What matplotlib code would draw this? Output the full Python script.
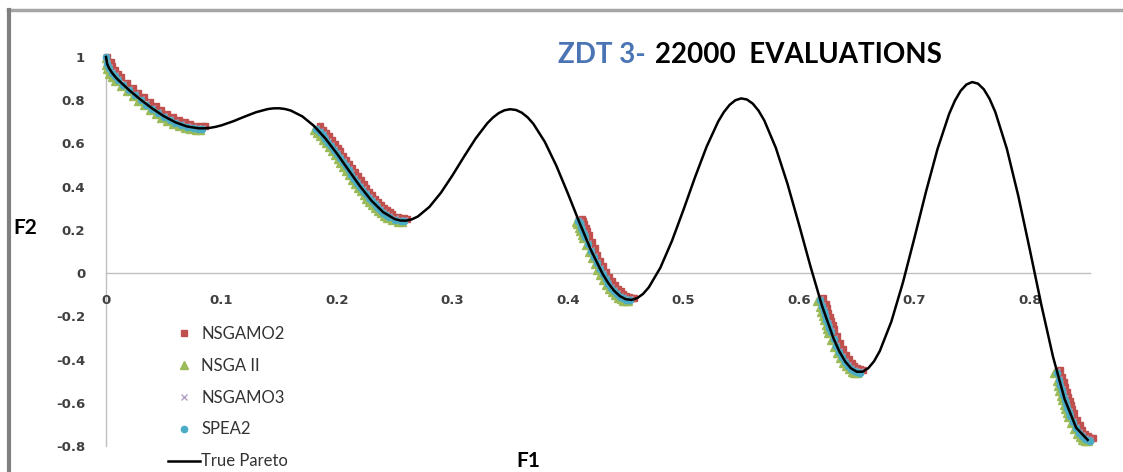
import matplotlib.pyplot as plt
from matplotlib.lines import Line2D

# True Pareto curve (F1, F2)
pareto_f1 = [0.0, 0.001, 0.0025, 0.005, 0.0075, 0.01, 0.02, 0.03, 0.04, 0.05, 0.06, 0.07, 0.08, 0.085, 0.09, 0.095,
             0.10, 0.11, 0.12, 0.13, 0.14, 0.145, 0.15, 0.155, 0.16, 0.17, 0.18, 0.19,
             0.20, 0.21, 0.22, 0.23, 0.24, 0.25, 0.255, 0.26, 0.265, 0.27, 0.28, 0.29,
             0.30, 0.31, 0.32, 0.33, 0.335, 0.34, 0.345, 0.35, 0.355, 0.36, 0.365, 0.37, 0.38, 0.39,
             0.40, 0.41, 0.42, 0.43, 0.435, 0.44, 0.445, 0.45, 0.455, 0.46, 0.465, 0.47, 0.48, 0.49,
             0.50, 0.51, 0.52, 0.53, 0.535, 0.54, 0.545, 0.55, 0.555, 0.56, 0.565, 0.57, 0.58, 0.59,
             0.60, 0.61, 0.62, 0.63, 0.635, 0.64, 0.645, 0.65, 0.655, 0.66, 0.665, 0.67, 0.68, 0.69,
             0.70, 0.71, 0.72, 0.73, 0.735, 0.74, 0.745, 0.75, 0.755, 0.76, 0.765, 0.77, 0.78, 0.79,
             0.80, 0.81, 0.82, 0.83, 0.84, 0.85]
pareto_f2 = [1.0, 0.9683, 0.9498, 0.9285, 0.9117, 0.8969, 0.8468, 0.8025, 0.7620, 0.7264, 0.6980, 0.6788, 0.6701, 0.6699, 0.6722, 0.6769,
             0.6838, 0.7023, 0.7241, 0.7446, 0.7590, 0.7624, 0.7627, 0.7594, 0.7522, 0.7252, 0.6815, 0.6228,
             0.5528, 0.4768, 0.4016, 0.3344, 0.2819, 0.2500, 0.2432, 0.2428, 0.2491, 0.2619, 0.3063, 0.3719,
             0.4523, 0.5390, 0.6224, 0.6925, 0.7197, 0.7403, 0.7534, 0.7584, 0.7548, 0.7424, 0.7211, 0.6911, 0.6069, 0.4960,
             0.3675, 0.2330, 0.1051, -0.0036, -0.0471, -0.0818, -0.1066, -0.1208, -0.1239, -0.1157, -0.0962, -0.0658, 0.0250, 0.1486,
             0.2929, 0.4435, 0.5845, 0.7008, 0.7453, 0.7787, 0.8001, 0.8084, 0.8032, 0.7843, 0.7518, 0.7062, 0.5793, 0.4142,
             0.2254, 0.0305, -0.1518, -0.3034, -0.3627, -0.4087, -0.4402, -0.4562, -0.4563, -0.4401, -0.4080, -0.3606, -0.2243, -0.0439,
             0.1633, 0.3768, 0.5747, 0.7362, 0.7976, 0.8436, 0.8727, 0.8840, 0.8768, 0.8510, 0.8070, 0.7455, 0.5753, 0.3553,
             0.1056, -0.1503, -0.3875, -0.5825, -0.7154, -0.7720]

# F1 positions shared by NSGAMO3 and SPEA2 (one line per front segment)
f1_points = [0.0, 0.001, 0.0025, 0.005, 0.0075, 0.01, 0.015, 0.02, 0.025, 0.03, 0.035, 0.04, 0.045, 0.05, 0.055, 0.06, 0.065, 0.07, 0.075, 0.08, 0.083,
             0.182, 0.185, 0.1875, 0.19, 0.1925, 0.195, 0.1975, 0.2, 0.2025, 0.205, 0.2075, 0.21, 0.2125, 0.215, 0.2175, 0.22, 0.2225, 0.225, 0.2275, 0.23, 0.2325, 0.235, 0.2375, 0.24, 0.2425, 0.245, 0.25, 0.255, 0.258,
             0.409, 0.41, 0.41125, 0.4125, 0.41375, 0.415, 0.4175, 0.42, 0.4225, 0.425, 0.4275, 0.43, 0.4325, 0.435, 0.4375, 0.44, 0.4425, 0.445, 0.4475, 0.45, 0.4525, 0.454,
             0.618, 0.62, 0.62125, 0.6225, 0.62375, 0.625, 0.62625, 0.6275, 0.63, 0.6325, 0.635, 0.6375, 0.64, 0.6425, 0.645, 0.6475, 0.65, 0.6525,
             0.823, 0.825, 0.82625, 0.8275, 0.82875, 0.83, 0.83125, 0.8325, 0.83375, 0.835, 0.8375, 0.84, 0.8425, 0.845, 0.8475, 0.85, 0.852]

nsgamo2_f1 = [0.001, 0.004, 0.0055, 0.008, 0.0105, 0.013, 0.018, 0.023, 0.028, 0.033, 0.038, 0.043, 0.048, 0.053, 0.058, 0.063, 0.068, 0.073, 0.078, 0.083, 0.086,
              0.185, 0.188, 0.1905, 0.193, 0.1955, 0.198, 0.2005, 0.203, 0.2055, 0.208, 0.2105, 0.213, 0.2155, 0.218, 0.2205, 0.223, 0.2255, 0.228, 0.2305, 0.233, 0.2355, 0.238, 0.2405, 0.243, 0.2455, 0.248, 0.253, 0.258, 0.261,
              0.412, 0.413, 0.41425, 0.4155, 0.41675, 0.418, 0.4205, 0.423, 0.4255, 0.428, 0.4305, 0.433, 0.4355, 0.438, 0.4405, 0.443, 0.4455, 0.448, 0.4505, 0.453, 0.4555, 0.457,
              0.621, 0.623, 0.62425, 0.6255, 0.62675, 0.628, 0.62925, 0.6305, 0.633, 0.6355, 0.638, 0.6405, 0.643, 0.6455, 0.648, 0.6505, 0.653, 0.6555,
              0.826, 0.828, 0.82925, 0.8305, 0.83175, 0.833, 0.83425, 0.8355, 0.83675, 0.838, 0.8405, 0.843, 0.8455, 0.848, 0.8505, 0.853, 0.855]
nsgamo2_f2 = [1.000, 0.978, 0.960, 0.939, 0.922, 0.907, 0.881, 0.857, 0.834, 0.813, 0.792, 0.772, 0.753, 0.736, 0.721, 0.708, 0.697, 0.689, 0.683, 0.680, 0.680,
              0.680, 0.664, 0.649, 0.633, 0.616, 0.599, 0.581, 0.563, 0.544, 0.525, 0.506, 0.487, 0.468, 0.449, 0.430, 0.412, 0.394, 0.377, 0.360, 0.344, 0.330, 0.316, 0.303, 0.292, 0.282, 0.273, 0.260, 0.253, 0.252,
              0.252, 0.243, 0.226, 0.210, 0.194, 0.177, 0.146, 0.115, 0.086, 0.058, 0.031, 0.006, -0.016, -0.037, -0.056, -0.072, -0.085, -0.097, -0.105, -0.111, -0.114, -0.114,
              -0.114, -0.142, -0.163, -0.183, -0.203, -0.223, -0.241, -0.259, -0.293, -0.325, -0.353, -0.377, -0.399, -0.416, -0.430, -0.440, -0.446, -0.448,
              -0.448, -0.482, -0.506, -0.529, -0.551, -0.573, -0.593, -0.612, -0.631, -0.648, -0.679, -0.705, -0.727, -0.744, -0.755, -0.762, -0.763]

nsga2_f1 = [0.0, 0.0, 0.0005, 0.003, 0.0055, 0.008, 0.013, 0.018, 0.023, 0.028, 0.033, 0.038, 0.043, 0.048, 0.053, 0.058, 0.063, 0.068, 0.073, 0.078, 0.081,
            0.180, 0.183, 0.1855, 0.188, 0.1905, 0.193, 0.1955, 0.198, 0.2005, 0.203, 0.2055, 0.208, 0.2105, 0.213, 0.2155, 0.218, 0.2205, 0.223, 0.2255, 0.228, 0.2305, 0.233, 0.2355, 0.238, 0.2405, 0.243, 0.248, 0.253, 0.256,
            0.407, 0.408, 0.40925, 0.4105, 0.41175, 0.413, 0.4155, 0.418, 0.4205, 0.423, 0.4255, 0.428, 0.4305, 0.433, 0.4355, 0.438, 0.4405, 0.443, 0.4455, 0.448, 0.4505, 0.452,
            0.616, 0.618, 0.61925, 0.6205, 0.62175, 0.623, 0.62425, 0.6255, 0.628, 0.6305, 0.633, 0.6355, 0.638, 0.6405, 0.643, 0.6455, 0.648, 0.6505,
            0.821, 0.823, 0.82425, 0.8255, 0.82675, 0.828, 0.82925, 0.8305, 0.83175, 0.833, 0.8355, 0.838, 0.8405, 0.843, 0.8455, 0.848, 0.850]
nsga2_f2 = [0.994, 0.962, 0.944, 0.923, 0.906, 0.891, 0.865, 0.841, 0.818, 0.797, 0.776, 0.756, 0.737, 0.720, 0.705, 0.692, 0.681, 0.673, 0.667, 0.664, 0.664,
            0.664, 0.648, 0.633, 0.617, 0.600, 0.583, 0.565, 0.547, 0.528, 0.509, 0.490, 0.471, 0.452, 0.433, 0.414, 0.396, 0.378, 0.361, 0.344, 0.328, 0.314, 0.300, 0.287, 0.276, 0.266, 0.257, 0.244, 0.237, 0.236,
            0.236, 0.227, 0.210, 0.194, 0.178, 0.161, 0.130, 0.099, 0.070, 0.042, 0.015, -0.010, -0.032, -0.053, -0.072, -0.088, -0.101, -0.113, -0.121, -0.127, -0.130, -0.130,
            -0.130, -0.158, -0.179, -0.199, -0.219, -0.239, -0.257, -0.275, -0.309, -0.341, -0.369, -0.393, -0.415, -0.432, -0.446, -0.456, -0.462, -0.464,
            -0.464, -0.498, -0.522, -0.545, -0.567, -0.589, -0.609, -0.628, -0.647, -0.664, -0.695, -0.721, -0.743, -0.760, -0.771, -0.778, -0.779]

nsgamo3_f2 = [1.000, 0.971, 0.953, 0.932, 0.915, 0.900, 0.874, 0.850, 0.827, 0.806, 0.785, 0.765, 0.746, 0.729, 0.714, 0.701, 0.690, 0.682, 0.676, 0.673, 0.673,
              0.673, 0.657, 0.642, 0.626, 0.609, 0.592, 0.574, 0.556, 0.537, 0.518, 0.499, 0.480, 0.461, 0.442, 0.423, 0.405, 0.387, 0.370, 0.353, 0.337, 0.323, 0.309, 0.296, 0.285, 0.275, 0.266, 0.253, 0.246, 0.245,
              0.245, 0.236, 0.219, 0.203, 0.187, 0.170, 0.139, 0.108, 0.079, 0.051, 0.024, -0.001, -0.023, -0.044, -0.063, -0.079, -0.092, -0.104, -0.112, -0.118, -0.121, -0.121,
              -0.121, -0.149, -0.170, -0.190, -0.210, -0.230, -0.248, -0.266, -0.300, -0.332, -0.360, -0.384, -0.406, -0.423, -0.437, -0.447, -0.453, -0.455,
              -0.455, -0.489, -0.513, -0.536, -0.558, -0.580, -0.600, -0.619, -0.638, -0.655, -0.686, -0.712, -0.734, -0.751, -0.762, -0.769, -0.770]

spea2_f2 = [0.998, 0.966, 0.948, 0.927, 0.910, 0.895, 0.869, 0.845, 0.822, 0.801, 0.780, 0.760, 0.741, 0.724, 0.709, 0.696, 0.685, 0.677, 0.671, 0.668, 0.668,
            0.668, 0.652, 0.637, 0.621, 0.604, 0.587, 0.569, 0.551, 0.532, 0.513, 0.494, 0.475, 0.456, 0.437, 0.418, 0.400, 0.382, 0.365, 0.348, 0.332, 0.318, 0.304, 0.291, 0.280, 0.270, 0.261, 0.248, 0.241, 0.240,
            0.240, 0.231, 0.214, 0.198, 0.182, 0.165, 0.134, 0.103, 0.074, 0.046, 0.019, -0.006, -0.028, -0.049, -0.068, -0.084, -0.097, -0.109, -0.117, -0.123, -0.126, -0.126,
            -0.126, -0.154, -0.175, -0.195, -0.215, -0.235, -0.253, -0.271, -0.305, -0.337, -0.365, -0.389, -0.411, -0.428, -0.442, -0.452, -0.458, -0.460,
            -0.460, -0.494, -0.518, -0.541, -0.563, -0.585, -0.605, -0.624, -0.643, -0.660, -0.691, -0.717, -0.739, -0.756, -0.767, -0.774, -0.775]

x_ticks = [0, 0.1, 0.2, 0.3, 0.4, 0.5, 0.6, 0.7, 0.8]
x_labels = ['0', '0.1', '0.2', '0.3', '0.4', '0.5', '0.6', '0.7', '0.8']
y_ticks = [-0.8, -0.6, -0.4, -0.2, 0, 0.2, 0.4, 0.6, 0.8, 1]
y_labels = ['-0.8', '-0.6', '-0.4', '-0.2', '0', '0.2', '0.4', '0.6', '0.8', '1']

W, H = 1123, 472
fig = plt.figure(figsize=(W / 100, H / 100), dpi=100)
ax = fig.add_axes([106 / W, 1 - 446 / H, 984 / W, 389 / H])

h1, = ax.plot(nsgamo2_f1, nsgamo2_f2, 's', color='#c0504d', ms=5, mec='#c0504d', clip_on=False, zorder=2)
h2, = ax.plot(nsga2_f1, nsga2_f2, '^', color='#9bbb59', ms=5.5, mec='#9bbb59', clip_on=False, zorder=3)
h3, = ax.plot(f1_points, nsgamo3_f2, 'x', color='#b3a2c7', ms=5, mew=1, clip_on=False, zorder=4)
h4, = ax.plot(f1_points, spea2_f2, 'o', color='#4bacc6', ms=4.5, mec='#4bacc6', clip_on=False, zorder=5)
h5, = ax.plot(pareto_f1, pareto_f2, '-', color='black', lw=1.8, clip_on=False, zorder=6)

ax.set_xlim(0, 0.852)
ax.set_ylim(-0.8, 1.0)

for side in ['top', 'right']:
    ax.spines[side].set_visible(False)
ax.spines['bottom'].set_position(('data', 0))
for side in ['left', 'bottom']:
    ax.spines[side].set_color('#bfbfbf')
    ax.spines[side].set_linewidth(1.0)
    ax.spines[side].set_zorder(1)

ax.set_xticks(x_ticks)
ax.set_xticklabels(x_labels, fontweight='bold', fontsize=9.5, color='#404040')
ax.set_yticks(y_ticks)
ax.set_yticklabels(y_labels, fontweight='bold', fontsize=9.5, color='#404040')
ax.tick_params(axis='both', length=0)
ax.tick_params(axis='x', pad=15)
ax.tick_params(axis='y', pad=15)

leg = ax.legend([h1, h2, h3, h4, h5], ['NSGAMO2', 'NSGA II', 'NSGAMO3', 'SPEA2', 'True Pareto'],
                loc='upper left', bbox_to_anchor=(168 / W, 1 - 326 / H), bbox_transform=fig.transFigure,
                frameon=False, borderpad=0, borderaxespad=0, handlelength=1.9, handletextpad=0.1,
                labelspacing=0.95, numpoints=1, prop={'family': 'Lato', 'size': 12}, labelcolor='#333333')

fig.text(558 / W, 1 - 63 / H, 'ZDT 3-', color='#4a74b4', fontsize=20, fontweight='bold',
         family='Lato', va='baseline', ha='left')
fig.text(655 / W, 1 - 63 / H, '22000  EVALUATIONS', color='black', fontsize=20, fontweight='bold',
         family='Lato', va='baseline', ha='left')
fig.text(13 / W, 1 - 228 / H, 'F2', fontsize=15, fontweight='bold', family='Lato', va='center', ha='left')
fig.text(528 / W, 1 - 461 / H, 'F1', fontsize=15, fontweight='bold', family='Lato', va='center', ha='center')

# outer chart frame
fig.add_artist(Line2D([8 / W, 1], [1 - 10 / H, 1 - 10 / H], transform=fig.transFigure, color='#a6a6a6', lw=2.5))
fig.add_artist(Line2D([9 / W, 9 / W], [0, 1 - 10 / H], transform=fig.transFigure, color='#7f7f7f', lw=3))

fig.savefig('out.png', dpi=100)
